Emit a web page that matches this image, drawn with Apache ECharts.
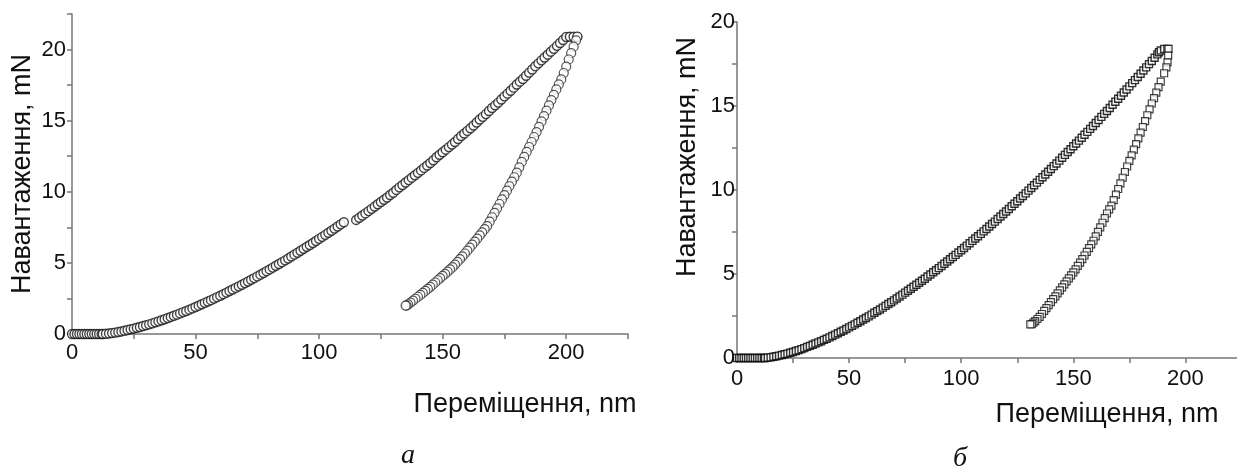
<!DOCTYPE html>
<html>
<head>
<meta charset="utf-8">
<script src="https://cdn.jsdelivr.net/npm/echarts@6/dist/echarts.min.js"></script>
<style>
  html, body { margin: 0; padding: 0; background: #fff; }
  #chart { width: 1237px; height: 470px; }
</style>
</head>
<body>
<div id="chart"></div>
<script>
// а: навантаження (переміщення nm, навантаження mN)
const loadingA = [
  [0, 0], [1, 0], [2, 0], [3, 0], [4, 0], [5, 0], [6, 0], [7, 0], [8, 0], [9, 0], [10, 0], [11, 0], [12, 0],
  [12.5, 0.0], [13.75, 0.02], [15, 0.04], [16.25, 0.07], [17.5, 0.1], [18.75, 0.14], [20, 0.18], [21.25, 0.23],
  [22.5, 0.28], [23.75, 0.33], [25, 0.38], [26.25, 0.44], [27.5, 0.49], [28.75, 0.56], [30, 0.62], [31.25, 0.68],
  [32.5, 0.75], [33.75, 0.82], [35, 0.89], [36.25, 0.97], [37.5, 1.04], [38.75, 1.12], [40, 1.2], [41.25, 1.28],
  [42.5, 1.36], [43.75, 1.45], [45, 1.54], [46.25, 1.62], [47.5, 1.71], [48.75, 1.8], [50, 1.9], [51.25, 1.99],
  [52.5, 2.09], [53.75, 2.19], [55, 2.28], [56.25, 2.38], [57.5, 2.49], [58.75, 2.59], [60, 2.69], [61.25, 2.8],
  [62.5, 2.91], [63.75, 3.02], [65, 3.13], [66.25, 3.24], [67.5, 3.35], [68.75, 3.46], [70, 3.58], [71.25, 3.69],
  [72.5, 3.81], [73.75, 3.93], [75, 4.05], [76.25, 4.17], [77.5, 4.29], [78.75, 4.42], [80, 4.54], [81.25, 4.67],
  [82.5, 4.8], [83.75, 4.92], [85, 5.05], [86.25, 5.18], [87.5, 5.31], [88.75, 5.45], [90, 5.58], [91.25, 5.71],
  [92.5, 5.85], [93.75, 5.99], [95, 6.13], [96.25, 6.26], [97.5, 6.4], [98.75, 6.54], [100, 6.69], [101.25, 6.83],
  [102.5, 6.97], [103.75, 7.12], [105, 7.26], [106.25, 7.41], [107.5, 7.56], [108.75, 7.71], [110, 7.86],
  [115, 8.02], [116.25, 8.17], [117.5, 8.33], [118.75, 8.48], [120, 8.64], [121.25, 8.8], [122.5, 8.96],
  [123.75, 9.12], [125, 9.28], [126.25, 9.44], [127.5, 9.6], [128.75, 9.77], [130, 9.93], [131.25, 10.13],
  [132.5, 10.31], [133.75, 10.48], [135, 10.65], [136.25, 10.82], [137.5, 10.99], [138.75, 11.16], [140, 11.33],
  [141.25, 11.5], [142.5, 11.68], [143.75, 11.85], [145, 12.02], [146.25, 12.22], [147.5, 12.43], [148.75, 12.6],
  [150, 12.78], [151.25, 12.96], [152.5, 13.14], [153.75, 13.32], [155, 13.5], [156.25, 13.71], [157.5, 13.92],
  [158.75, 14.1], [160, 14.28], [161.25, 14.47], [162.5, 14.66], [163.75, 14.87], [165, 15.08], [166.25, 15.27],
  [167.5, 15.46], [168.75, 15.68], [170, 15.89], [171.25, 16.08], [172.5, 16.27], [173.75, 16.49], [175, 16.71],
  [176.25, 16.9], [177.5, 17.1], [178.75, 17.32], [180, 17.54], [181.25, 17.74], [182.5, 17.93], [183.75, 18.16],
  [185, 18.38], [186.25, 18.6], [187.5, 18.83], [188.75, 19.03], [190, 19.24], [191.25, 19.44], [192.5, 19.64],
  [193.75, 19.85], [195, 20.05], [196.25, 20.26], [197.5, 20.46], [198.75, 20.67], [200, 20.88],
  [201.5, 20.9], [203, 20.9], [204.5, 20.9]
];
// а: розвантаження
const unloadingA = [
  [204.5, 20.9], [204, 20.65], [203, 20.2], [202, 19.75], [201, 19.3], [200, 18.8], [199, 18.35], [198, 17.9],
  [197, 17.55], [196, 17.2], [195, 16.82], [194, 16.45], [193, 16.07], [192, 15.7], [191, 15.32], [190, 14.95],
  [189, 14.57], [188, 14.2], [187, 13.85], [186, 13.5], [185, 13.15], [184, 12.8], [183, 12.45], [182, 12.1],
  [181, 11.72], [180, 11.34], [179, 11.02], [178, 10.71], [177, 10.39], [176, 10.08], [175, 9.77], [174, 9.46],
  [173, 9.14], [172, 8.83], [171, 8.52], [170, 8.21], [169, 7.9], [168, 7.59], [167, 7.37], [166, 7.15],
  [165, 6.93], [164, 6.71], [163, 6.49], [162, 6.28], [161, 6.07], [160, 5.86], [159, 5.66], [158, 5.46],
  [157, 5.26], [156, 5.07], [155, 4.88], [154, 4.7], [153, 4.54], [152, 4.39], [151, 4.23], [150, 4.08],
  [149, 3.93], [148, 3.78], [147, 3.62], [146, 3.47], [145, 3.32], [144, 3.17], [143, 3.03], [142, 2.89],
  [141, 2.75], [140, 2.62], [139, 2.48], [138, 2.35], [137, 2.21], [136, 2.08], [135.4, 2.0], [135, 2.0]
];
// б: навантаження
const loadingB = [
  [0, 0], [1, 0], [2, 0], [3, 0], [4, 0], [5, 0], [6, 0], [7, 0], [8, 0], [9, 0], [10, 0], [11, 0], [12, 0],
  [12.5, 0.0], [13.75, 0.02], [15, 0.04], [16.25, 0.07], [17.5, 0.1], [18.75, 0.14], [20, 0.18], [21.25, 0.22],
  [22.5, 0.26], [23.75, 0.31], [25, 0.36], [26.25, 0.42], [27.5, 0.47], [28.75, 0.53], [30, 0.59], [31.25, 0.66],
  [32.5, 0.72], [33.75, 0.79], [35, 0.86], [36.25, 0.93], [37.5, 1.0], [38.75, 1.08], [40, 1.15], [41.25, 1.23],
  [42.5, 1.31], [43.75, 1.39], [45, 1.47], [46.25, 1.56], [47.5, 1.64], [48.75, 1.73], [50, 1.82], [51.25, 1.91],
  [52.5, 2.0], [53.75, 2.1], [55, 2.19], [56.25, 2.29], [57.5, 2.38], [58.75, 2.48], [60, 2.58], [61.25, 2.69],
  [62.5, 2.79], [63.75, 2.89], [65, 3.0], [66.25, 3.1], [67.5, 3.21], [68.75, 3.32], [70, 3.43], [71.25, 3.54],
  [72.5, 3.66], [73.75, 3.77], [75, 3.89], [76.25, 4.0], [77.5, 4.12], [78.75, 4.24], [80, 4.36], [81.25, 4.48],
  [82.5, 4.6], [83.75, 4.72], [85, 4.85], [86.25, 4.97], [87.5, 5.1], [88.75, 5.22], [90, 5.35], [91.25, 5.48],
  [92.5, 5.61], [93.75, 5.74], [95, 5.88], [96.25, 6.01], [97.5, 6.14], [98.75, 6.28], [100, 6.41], [101.25, 6.55],
  [102.5, 6.69], [103.75, 6.83], [105, 6.97], [106.25, 7.11], [107.5, 7.25], [108.75, 7.39], [110, 7.54],
  [111.25, 7.68], [112.5, 7.83], [113.75, 7.98], [115, 8.12], [116.25, 8.27], [117.5, 8.42], [118.75, 8.57],
  [120, 8.72], [121.25, 8.87], [122.5, 9.03], [123.75, 9.18], [125, 9.33], [126.25, 9.49], [127.5, 9.64],
  [128.75, 9.8], [130, 9.96], [131.25, 10.12], [132.5, 10.28], [133.75, 10.44], [135, 10.6], [136.25, 10.76],
  [137.5, 10.92], [138.75, 11.09], [140, 11.25], [141.25, 11.42], [142.5, 11.58], [143.75, 11.75], [145, 11.92],
  [146.25, 12.09], [147.5, 12.26], [148.75, 12.43], [150, 12.6], [151.25, 12.77], [152.5, 12.94], [153.75, 13.11],
  [155, 13.29], [156.25, 13.46], [157.5, 13.64], [158.75, 13.81], [160, 13.99], [161.25, 14.17], [162.5, 14.35],
  [163.75, 14.53], [165, 14.7], [166.25, 14.88], [167.5, 15.07], [168.75, 15.25], [170, 15.43], [171.25, 15.61],
  [172.5, 15.8], [173.75, 15.98], [175, 16.17], [176.25, 16.36], [177.5, 16.54], [178.75, 16.73], [180, 16.92],
  [181.25, 17.11], [182.5, 17.3], [183.75, 17.49], [185, 17.68], [186.25, 17.87], [187.5, 18.07], [188.2, 18.2],
  [189, 18.3], [190.5, 18.4], [192, 18.4]
];
// б: розвантаження
const unloadingB = [
  [192.5, 18.4], [192.3, 18.0], [192, 17.6], [191.5, 17.3], [190.5, 16.95], [189, 16.45], [188, 16.12],
  [187, 15.8], [186, 15.47], [185, 15.15], [184, 14.8], [183, 14.45], [182, 14.1], [181, 13.75], [180, 13.41],
  [179, 13.07], [178, 12.73], [177, 12.4], [176, 12.06], [175, 11.73], [174, 11.4], [173, 11.07], [172, 10.73],
  [171, 10.4], [170, 10.06], [169, 9.73], [168, 9.4], [167, 9.07], [166, 8.85], [165, 8.6], [164, 8.32],
  [163, 8.05], [162, 7.78], [161, 7.51], [160, 7.24], [159, 6.98], [158, 6.76], [157, 6.54], [156, 6.32],
  [155, 6.1], [154, 5.89], [153, 5.68], [152, 5.48], [151, 5.28], [150, 5.1], [149, 4.92], [148, 4.74],
  [147, 4.56], [146, 4.38], [145, 4.2], [144, 4.02], [143, 3.85], [142, 3.67], [141, 3.5], [140, 3.32],
  [139, 3.15], [138, 2.97], [137, 2.8], [136, 2.62], [135, 2.45], [134, 2.32], [133, 2.2], [132.2, 2.1],
  [131.5, 2.02], [130.8, 2.0]
];

const xTicksA = [0, 25, 50, 75, 100, 125, 150, 175, 200, 225];
const xTicksB = [0, 25, 50, 75, 100, 125, 150, 175, 200];
const xLabels = [0, 50, 100, 150, 200];
const yTicksA = [0, 2.5, 5, 7.5, 10, 12.5, 15, 17.5, 20, 22.5];
const yTicksB = [0, 2.5, 5, 7.5, 10, 12.5, 15, 17.5, 20];
const yLabels = [0, 5, 10, 15, 20];

const FONT = '"Liberation Sans", Arial, sans-serif';
const axisColor = '#777';

function xAxis(grid, max, ticks, margin) {
  return {
    type: 'value', gridIndex: grid, min: 0, max: max,
    axisLine: { show: true, onZero: false, lineStyle: { color: axisColor, width: 1.5 } },
    axisTick: { show: true, inside: false, length: 5, customValues: ticks, lineStyle: { color: axisColor, width: 1.5 } },
    axisLabel: { customValues: xLabels, margin: margin, color: '#111', fontSize: 22, fontFamily: FONT },
    splitLine: { show: false }
  };
}
function yAxis(grid, max, ticks, margin) {
  return {
    type: 'value', gridIndex: grid, min: 0, max: max,
    axisLine: { show: true, onZero: false, lineStyle: { color: axisColor, width: 1.5 } },
    axisTick: { show: true, inside: false, length: 5, customValues: ticks, lineStyle: { color: axisColor, width: 1.5 } },
    axisLabel: { customValues: yLabels, margin: margin, color: '#111', fontSize: 22, fontFamily: FONT },
    splitLine: { show: false }
  };
}
function title(text, x, y, rot) {
  return {
    type: 'text', x: x, y: y, rotation: rot,
    style: { text: text, fill: '#111', font: '27px ' + FONT, textAlign: 'center', textVerticalAlign: 'middle' }
  };
}

const chart = echarts.init(document.getElementById('chart'));
chart.setOption({
  animation: false,
  backgroundColor: '#fff',
  grid: [
    { left: 72, top: 14, width: 556, height: 320 },
    { left: 737, top: 22, width: 500, height: 336 }
  ],
  xAxis: [xAxis(0, 225, xTicksA, 8), xAxis(1, 223, xTicksB, 10)],
  yAxis: [yAxis(0, 22.5, yTicksA, 6), yAxis(1, 20, yTicksB, 2)],
  graphic: [
    title('Навантаження, mN', 23, 174, Math.PI / 2),
    title('Переміщення, nm', 525, 405, 0),
    title('Навантаження, mN', 688, 157, Math.PI / 2),
    title('Переміщення, nm', 1107, 415, 0),
    { type: 'text', x: 408, y: 456, style: { text: 'а', fill: '#111', font: 'italic 28px "Liberation Serif", serif', textAlign: 'center', textVerticalAlign: 'middle' } },
    { type: 'text', x: 960, y: 459, style: { text: 'б', fill: '#111', font: 'italic 28px "Liberation Serif", serif', textAlign: 'center', textVerticalAlign: 'middle' } }
  ],
  series: [
    { type: 'scatter', xAxisIndex: 0, yAxisIndex: 0, data: loadingA, symbol: 'circle', symbolSize: 9,
      itemStyle: { color: '#fff', borderColor: '#151515', borderWidth: 1.4 } },
    { type: 'scatter', xAxisIndex: 0, yAxisIndex: 0, data: unloadingA, symbol: 'circle', symbolSize: 9,
      itemStyle: { color: '#fff', borderColor: '#2a2a2a', borderWidth: 1.2 } },
    { type: 'scatter', xAxisIndex: 1, yAxisIndex: 1, data: loadingB, symbol: 'rect', symbolSize: 7,
      itemStyle: { color: '#fff', borderColor: '#000', borderWidth: 1.4 } },
    { type: 'scatter', xAxisIndex: 1, yAxisIndex: 1, data: unloadingB, symbol: 'rect', symbolSize: 7,
      itemStyle: { color: '#fff', borderColor: '#111', borderWidth: 1.2 } }
  ]
});
</script>
</body>
</html>
